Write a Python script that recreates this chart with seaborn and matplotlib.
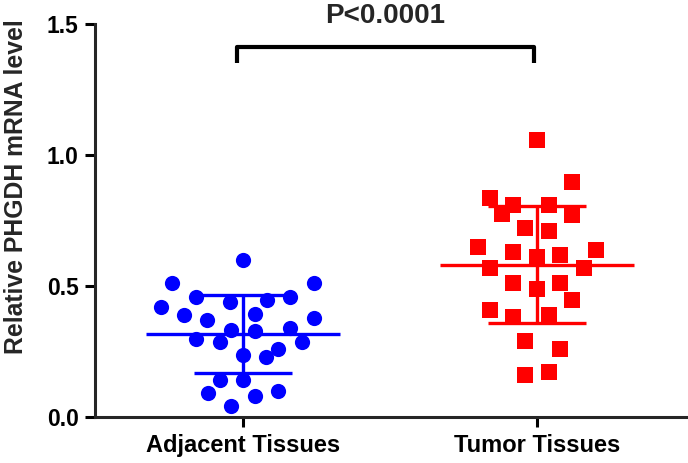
import matplotlib
matplotlib.use("Agg")
import matplotlib.pyplot as plt
import seaborn as sns
import numpy as np
import pandas as pd

# values
groups = ["Adjacent Tissues", "Tumor Tissues"]
adjacent_vals = [0.600, 0.510, 0.510, 0.459, 0.459, 0.437, 0.448, 0.418, 0.390, 0.393,
                 0.370, 0.378, 0.332, 0.329, 0.339, 0.297, 0.288, 0.288, 0.259, 0.230,
                 0.237, 0.140, 0.140, 0.093, 0.080, 0.100, 0.042]
adjacent_offsets = [0.0, -0.24, 0.24, -0.16, 0.16, -0.045, 0.08, -0.28, -0.20, 0.04,
                    -0.123, 0.24, -0.04, 0.04, 0.16, -0.16, -0.08, 0.20, 0.12, 0.078,
                    0.0, -0.08, 0.0, -0.12, 0.04, 0.12, -0.04]
tumor_vals = [1.056, 0.897, 0.837, 0.807, 0.807, 0.776, 0.769, 0.721, 0.708, 0.648,
              0.629, 0.619, 0.638, 0.612, 0.568, 0.568, 0.510, 0.510, 0.489, 0.448,
              0.408, 0.380, 0.389, 0.291, 0.259, 0.161, 0.170]
tumor_offsets = [0.0, 0.12, -0.16, -0.08, 0.04, -0.12, 0.12, -0.04, 0.04, -0.20,
                 -0.08, 0.08, 0.20, 0.0, -0.16, 0.16, -0.08, 0.08, 0.0, 0.12,
                 -0.16, -0.08, 0.04, -0.04, 0.08, -0.04, 0.04]
y_ticks = [0.0, 0.5, 1.0, 1.5]
p_label = "P<0.0001"

colors = {"Adjacent Tissues": "#0000FF", "Tumor Tissues": "#FF0000"}
markers = {"Adjacent Tissues": "o", "Tumor Tissues": "s"}

df = pd.DataFrame({
    "group": [groups[0]] * len(adjacent_vals) + [groups[1]] * len(tumor_vals),
    "value": adjacent_vals + tumor_vals,
    "offset": adjacent_offsets + tumor_offsets,
})
df["pos"] = df["group"].map({g: i for i, g in enumerate(groups)}) + df["offset"]

sns.set_theme(style="ticks")
plt.rcParams["font.family"] = ["Liberation Sans", "DejaVu Sans"]
plt.rcParams["font.weight"] = "bold"

fig = plt.figure(figsize=(6.88, 4.63), dpi=100)
ax = fig.add_axes([0.1375, 0.0994, 0.8625, 0.849])

for g in groups:
    sub = df[df["group"] == g]
    sns.scatterplot(data=sub, x="pos", y="value", color=colors[g], marker=markers[g],
                    s=120 if g == groups[0] else 135, linewidth=0, ax=ax, legend=False, zorder=3)

# mean and SD lines
for i, g in enumerate(groups):
    v = df.loc[df["group"] == g, "value"]
    m, sd = v.mean(), v.std()
    c = colors[g]
    ax.hlines(m, i - 0.33, i + 0.33, color=c, lw=2.4, zorder=4)
    ax.vlines(i, m - sd, m + sd, color=c, lw=2.4, zorder=4)
    ax.hlines([m - sd, m + sd], i - 0.167, i + 0.167, color=c, lw=2.4, zorder=4)

# significance bracket
ax.plot([-0.02, -0.02, 0.99, 0.99], [1.351, 1.412, 1.412, 1.351], color="black", lw=3,
        solid_capstyle="butt", clip_on=False, zorder=5)
ax.text(0.483, 1.531, p_label, ha="center", va="center", fontsize=20, fontweight="bold",
        clip_on=False)

ax.set_xlim(-0.505, 1.514)
ax.set_ylim(0, 1.5)
ax.set_xticks(range(len(groups)))
ax.set_xticklabels(groups, fontsize=17, fontweight="bold")
ax.set_yticks(y_ticks)
ax.set_yticklabels([f"{t:.1f}" for t in y_ticks], fontsize=16.5, fontweight="bold")
ax.set_xlabel("")
ax.set_ylabel("Relative PHGDH mRNA level", fontsize=17.8, fontweight="bold")
ax.yaxis.set_label_coords(-0.112, 0.585)
sns.despine(ax=ax)
for s in ["left", "bottom"]:
    ax.spines[s].set_linewidth(2.2)
ax.tick_params(axis="both", width=2.2, colors="black")
ax.tick_params(axis="y", length=7, pad=4.5)
ax.tick_params(axis="x", length=7.5, pad=5)

fig.savefig("out.png", dpi=100)
